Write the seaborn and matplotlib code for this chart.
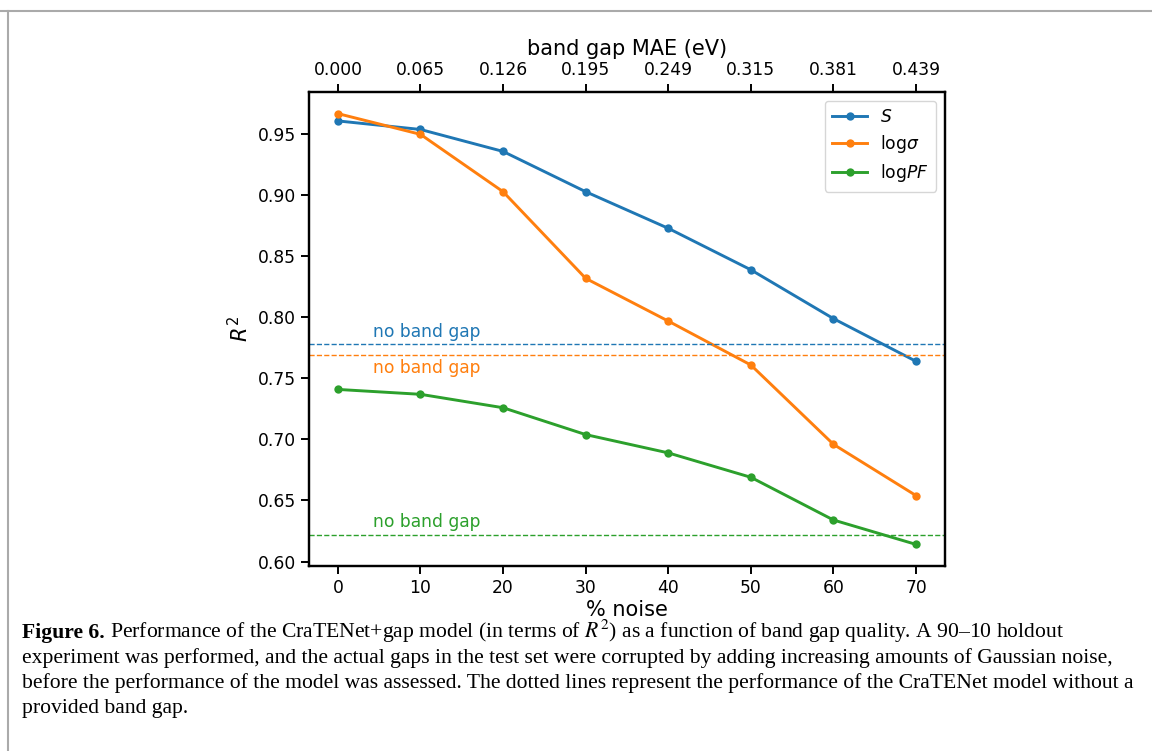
import matplotlib
matplotlib.use("Agg")
import matplotlib.pyplot as plt
from matplotlib.lines import Line2D
import seaborn as sns
import pandas as pd

# Noise levels (%) and corresponding band gap MAE (eV)
noise = [0, 10, 20, 30, 40, 50, 60, 70]
mae_labels = ["0.000", "0.065", "0.126", "0.195", "0.249", "0.315", "0.381", "0.439"]

# R^2 of the CraTENet+gap model for each target
r2_S = [0.961, 0.954, 0.936, 0.903, 0.873, 0.839, 0.799, 0.764]
r2_logsigma = [0.967, 0.950, 0.903, 0.832, 0.797, 0.761, 0.696, 0.654]
r2_logPF = [0.741, 0.737, 0.726, 0.704, 0.689, 0.669, 0.634, 0.614]

# R^2 of the CraTENet model without a band gap
baseline_S = 0.778
baseline_logsigma = 0.769
baseline_logPF = 0.622

series_names = [r"$S$", r"log$\sigma$", r"log$PF$"]
colors = ["#1f77b4", "#ff7f0e", "#2ca02c"]

df = pd.DataFrame({
    "noise": noise * 3,
    "r2": r2_S + r2_logsigma + r2_logPF,
    "target": [series_names[0]] * 8 + [series_names[1]] * 8 + [series_names[2]] * 8,
})

fig = plt.figure(figsize=(11.52, 7.51), dpi=100)
ax = fig.add_axes([0.2682, 0.2463, 0.8203 - 0.2682, 0.8775 - 0.2463])

sns.lineplot(data=df, x="noise", y="r2", hue="target", hue_order=series_names,
             palette=colors, marker="o", markersize=6, markeredgewidth=0,
             linewidth=2.1, ax=ax, legend=False)

tick_fs = 12.3
label_fs = 15

for base, c, dy, va in [(baseline_S, colors[0], 0.003, "bottom"),
                        (baseline_logsigma, colors[1], -0.003, "top"),
                        (baseline_logPF, colors[2], 0.003, "bottom")]:
    ax.axhline(base, color=c, linestyle="--", linewidth=1.0)
    ax.text(4.3, base + dy, "no band gap", color=c, fontsize=tick_fs, va=va, ha="left")

ax.set_xlim(-3.5, 73.5)
ax.set_ylim(0.5963, 0.9847)
ax.set_xticks(noise)
ax.set_yticks([0.60, 0.65, 0.70, 0.75, 0.80, 0.85, 0.90, 0.95])
ax.set_yticklabels(["0.60", "0.65", "0.70", "0.75", "0.80", "0.85", "0.90", "0.95"])
ax.tick_params(labelsize=tick_fs, width=1.4, length=6)
ax.set_xlabel("% noise", fontsize=label_fs, labelpad=2)
ax.set_ylabel(r"$R^2$", fontsize=label_fs)
for sp in ax.spines.values():
    sp.set_linewidth(1.6)

ax_top = ax.twiny()
ax_top.set_xlim(ax.get_xlim())
ax_top.set_xticks(noise)
ax_top.set_xticklabels(mae_labels)
ax_top.tick_params(labelsize=tick_fs, width=1.4, length=6)
ax_top.set_xlabel("band gap MAE (eV)", fontsize=label_fs)
for sp in ax_top.spines.values():
    sp.set_linewidth(1.6)

handles = [Line2D([0], [0], color=c, marker="o", markersize=6, markeredgewidth=0, linewidth=2.1)
           for c in colors]
ax.legend(handles, series_names, loc="upper right", fontsize=tick_fs,
          handlelength=2.0, borderpad=0.45, labelspacing=0.4)

# Page frame
fig.add_artist(Line2D([0, 1], [1 - 11 / 751, 1 - 11 / 751], transform=fig.transFigure,
                      color="#aaaaaa", linewidth=1.5))
fig.add_artist(Line2D([8 / 1152, 8 / 1152], [0, 1 - 11 / 751], transform=fig.transFigure,
                      color="#aaaaaa", linewidth=1.5))

# Caption
cap_font = "Liberation Serif"
cap_fs = 15.6
x0 = 22 / 1152
baselines = [638, 663, 688, 713]
lines = [
    r"Performance of the CraTENet+gap model (in terms of $R^2$) as a function of band gap quality. A 90–10 holdout",
    "experiment was performed, and the actual gaps in the test set were corrupted by adding increasing amounts of Gaussian noise,",
    "before the performance of the model was assessed. The dotted lines represent the performance of the CraTENet model without a",
    "provided band gap.",
]
bold = fig.text(x0, 1 - baselines[0] / 751, "Figure 6.", fontsize=cap_fs, family=cap_font,
                fontweight="bold", va="baseline", ha="left")
fig.canvas.draw()
bb = bold.get_window_extent(fig.canvas.get_renderer())
x1 = (bb.x1 + 5) / 1152
fig.text(x1, 1 - baselines[0] / 751, lines[0], fontsize=cap_fs, family=cap_font,
         math_fontfamily="stix", va="baseline", ha="left")
for yb, t in zip(baselines[1:], lines[1:]):
    fig.text(x0, 1 - yb / 751, t, fontsize=cap_fs, family=cap_font, va="baseline", ha="left")

fig.savefig("out.png", dpi=100)
